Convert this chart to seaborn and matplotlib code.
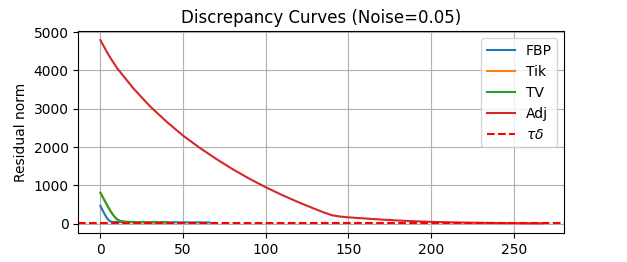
import matplotlib
matplotlib.use("Agg")
import matplotlib.pyplot as plt
import seaborn as sns
import pandas as pd

# iteration numbers and residual norms
fbp_iter = [0, 1, 2, 3, 4, 5, 6, 7, 10, 20, 30, 40, 50, 60, 66]
fbp_res = [470, 385, 300, 220, 150, 95, 62, 52, 48, 45, 43, 41, 39, 37, 36]

tv_iter = [0, 2, 4, 6, 8, 10, 12, 15, 20, 30, 40]
tv_res = [816, 655, 495, 345, 215, 120, 75, 55, 47, 42, 39]

tik_iter = [0, 2, 4, 6, 8, 10, 12, 15, 20, 30, 40]
tik_res = [810, 650, 490, 340, 210, 118, 74, 54, 46, 41, 38]

adj_iter = [0, 5, 10, 20, 30, 40, 50, 60, 70, 80, 90, 100, 110, 120, 130, 135,
            140, 145, 150, 160, 170, 180, 190, 200, 210, 220, 230, 240, 250, 260, 267]
adj_res = [4790, 4400, 4065, 3530, 3065, 2665, 2300, 1985, 1695, 1425, 1180, 955,
           750, 560, 385, 300, 225, 190, 170, 140, 112, 88, 68, 52, 41, 33, 27, 22,
           19, 16, 14]

tau_delta = 10

series = [("FBP", fbp_iter, fbp_res, "tab:blue"),
          ("Tik", tik_iter, tik_res, "tab:orange"),
          ("TV", tv_iter, tv_res, "tab:green"),
          ("Adj", adj_iter, adj_res, "tab:red")]

fig, ax = plt.subplots(figsize=(6.27, 2.62), dpi=100)

for name, it, res, col in series:
    df = pd.DataFrame({"iter": it, "res": res})
    sns.lineplot(data=df, x="iter", y="res", ax=ax, color=col, label=name, linewidth=1.5)

ax.axhline(tau_delta, color="red", linestyle="--", linewidth=1.5, label=r"$\tau\delta$")

ax.set_xlim(-13.3, 280.6)
ax.set_ylim(-243, 5016)
ax.set_xlabel("")
ax.set_ylabel("Residual norm")
ax.set_title("Discrepancy Curves (Noise=0.05)")
ax.grid(True)
ax.legend(loc="upper right")

fig.savefig("out.png", dpi=100)
